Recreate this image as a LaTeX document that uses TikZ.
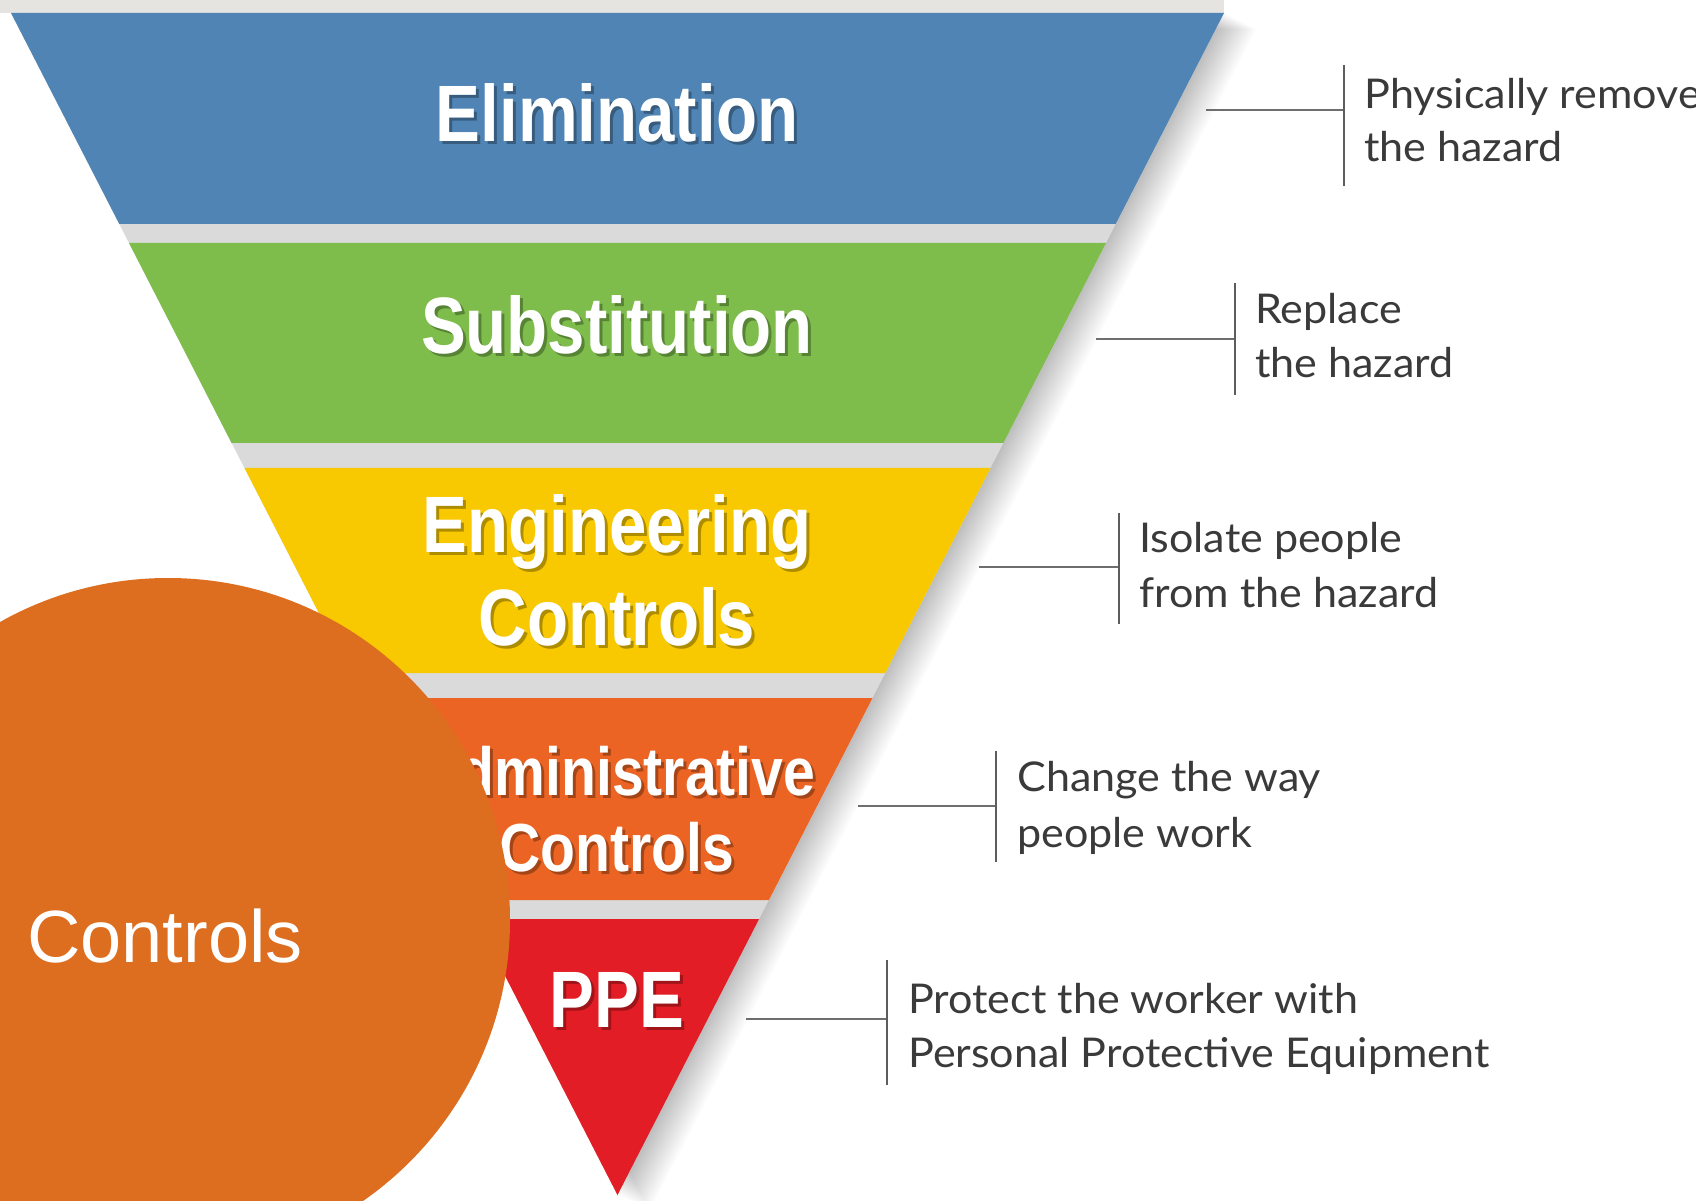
\documentclass[tikz,border=0pt]{standalone}
\usepackage{fontspec}
\setmainfont{Liberation Sans}
\newfontfamily\bandfont[FakeStretch=0.84]{Liberation Sans}
\newfontfamily\notefont[FakeStretch=1.05]{Lato}
\usetikzlibrary{calc}
\definecolor{elimblue}{HTML}{4F84B5}
\definecolor{subgreen}{HTML}{7EBC4C}
\definecolor{enyellow}{HTML}{F8C900}
\definecolor{adorange}{HTML}{EC6423}
\definecolor{ppered}{HTML}{E31D25}
\definecolor{circorange}{HTML}{DD6E20}
\definecolor{gapgray}{HTML}{DADADA}
\definecolor{topgray}{HTML}{E6E4E1}
\definecolor{linegray}{HTML}{6E6E6E}
\definecolor{notegray}{HTML}{3A3A3A}
\begin{document}
\begin{tikzpicture}[x=0.75pt,y=-0.75pt,
  bandtext/.style={text=white, font=\bandfont\bfseries\fontsize{60}{68}\selectfont, inner sep=0pt, anchor=base},
  bandshadow/.style={text=black, opacity=0.3, font=\bandfont\bfseries\fontsize{60}{68}\selectfont, inner sep=0pt, anchor=base},
  smallband/.style={font=\bandfont\bfseries\fontsize{51}{58}\selectfont},
  notetext/.style={text=notegray, font=\notefont\fontsize{30.75}{40}\selectfont, inner sep=0pt, anchor=base west},
  leader/.style={draw=linegray, line width=2.2pt},
  bracket/.style={draw=linegray!85!black, line width=2pt}]
\useasboundingbox (0,0) rectangle (1696,1201);
\clip (0,0) rectangle (1696,1201);
\fill[white] (0,0) rectangle (1696,1201);
% top strip
\fill[topgray] (0,0) rectangle (1224,13);
% soft shadow on the right of the funnel
\foreach \s in {2,4,...,32}{
  \fill[black,opacity=0.016,shift={(\s,\s*0.5)}] (11,13)--(1224,13)--(617.5,1195)--cycle;
}
% gray base (gaps)
\fill[gapgray] (11,13)--(1224,13)--(617.5,1195)--cycle;
% bands
\fill[elimblue] (11,13)--(1224,13)--(1115.7,224)--(119.3,224)--cycle;
\fill[subgreen] (129,243)--(1106,243)--(1003.4,443)--(231.6,443)--cycle;
\fill[enyellow] (244.5,468)--(990.5,468)--(885.3,673)--(349.7,673)--cycle;
\fill[adorange] (362.5,698)--(872.5,698)--(768.9,900)--(466.1,900)--cycle;
\fill[ppered] (475.9,919)--(759.1,919)--(617.5,1195)--cycle;
% band labels
\node[bandshadow] (elimS) at (620,145) {Elimination};
\node[bandtext] (elim) at (617,142) {Elimination};
\node[bandshadow] (subS) at (620,357) {Substitution};
\node[bandtext] (sub) at (617,354) {Substitution};
\node[bandshadow] (eng1S) at (620,556) {Engineering};
\node[bandtext] (eng1) at (617,553) {Engineering};
\node[bandshadow] (eng2S) at (620,648) {Controls};
\node[bandtext] (eng2) at (617,645) {Controls};
\node[bandshadow,smallband] (adm1S) at (620,798) {Administrative};
\node[bandtext,smallband] (adm1) at (617,795) {Administrative};
\node[bandshadow,smallband] (adm2S) at (620,874) {Controls};
\node[bandtext,smallband] (adm2) at (617,871) {Controls};
\node[bandshadow] (ppeS) at (620,1030) {PPE};
\node[bandtext] (ppe) at (617,1027) {PPE};
% orange circle
\fill[circorange] (168,920) circle[radius=342];
\node[text=white, font=\fontsize{55.5}{60}\selectfont, inner sep=0pt, anchor=base west] (ctl) at (27,962) {Controls};
% annotations
\coordinate (a1s) at (1206,110); \coordinate (a1b) at (1344,110);
\coordinate (a1t) at (1344,65); \coordinate (a1u) at (1344,186);
\draw[leader] (a1s) -- (a1b); \draw[bracket] (a1t) -- (a1u);
\node[notetext] (n1a) at (1364,109) {Physically remove};
\node[notetext] (n1b) at (1364,162) {the hazard};

\coordinate (a2s) at (1096,339); \coordinate (a2b) at (1235,339);
\coordinate (a2t) at (1235,283); \coordinate (a2u) at (1235,395);
\draw[leader] (a2s) -- (a2b); \draw[bracket] (a2t) -- (a2u);
\node[notetext] (n2a) at (1255,324) {Replace};
\node[notetext] (n2b) at (1255,378) {the hazard};

\coordinate (a3s) at (979,567); \coordinate (a3b) at (1119,567);
\coordinate (a3t) at (1119,513); \coordinate (a3u) at (1119,624);
\draw[leader] (a3s) -- (a3b); \draw[bracket] (a3t) -- (a3u);
\node[notetext] (n3a) at (1139,553) {Isolate people};
\node[notetext] (n3b) at (1139,607) {from the hazard};

\coordinate (a4s) at (858,806); \coordinate (a4b) at (996,806);
\coordinate (a4t) at (996,751); \coordinate (a4u) at (996,862);
\draw[leader] (a4s) -- (a4b); \draw[bracket] (a4t) -- (a4u);
\node[notetext] (n4a) at (1017,791) {Change the way};
\node[notetext] (n4b) at (1017,847) {people work};

\coordinate (a5s) at (746,1019); \coordinate (a5b) at (887,1019);
\coordinate (a5t) at (887,960); \coordinate (a5u) at (887,1085);
\draw[leader] (a5s) -- (a5b); \draw[bracket] (a5t) -- (a5u);
\node[notetext] (n5a) at (908,1013) {Protect the worker with};
\node[notetext] (n5b) at (908,1067) {Personal Protective Equipment};
\end{tikzpicture}
\end{document}
